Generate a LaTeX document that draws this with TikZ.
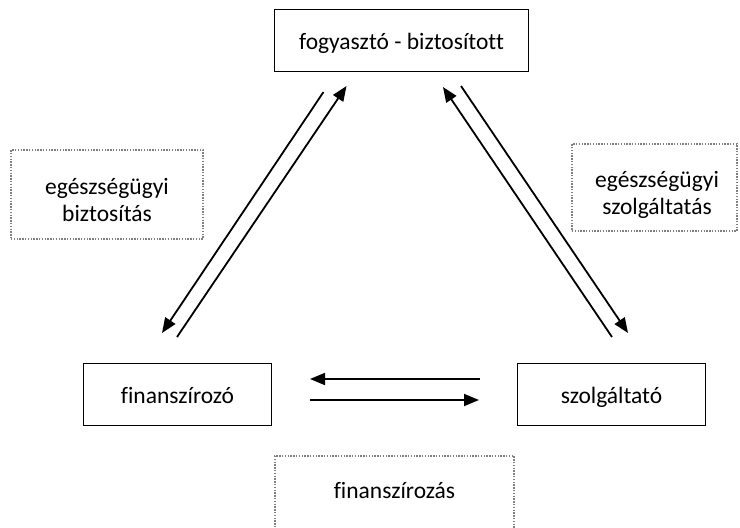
\documentclass[tikz,border=0pt]{standalone}
\usepackage{fontspec}
\setmainfont{Carlito}[Ligatures=NoCommon]
\usetikzlibrary{arrows.meta}
\begin{document}
\begin{tikzpicture}[x=1pt,y=-1pt,
  every node/.style={font=\fontsize{23.5}{27}\selectfont, inner sep=0pt},
  actor/.style={draw=black, line width=1.8pt, minimum width=#1, minimum height=62pt, text height=22pt, text depth=5pt},
  frame/.style={draw=black!50, line width=1.3pt, dash pattern=on 1.4pt off 1.4pt},
  flow/.style={line width=1.8pt, -{Triangle[length=15pt,width=12pt]}}]
\useasboundingbox (0,0) rectangle (740,528);
\clip (0,0) rectangle (740,528);
% main actors
\node[actor=254pt] (fogy) at (401.5,40.5) {fogyasztó - biztosított};
\node[actor=188pt] (fin) at (177.5,394.5) {finanszírozó};
\node[actor=188pt] (szolg) at (611.5,394.5) {szolgáltató};
% dotted label boxes
\node[frame, minimum width=192pt, minimum height=89pt] (lbiz) at (107,194.5) {};
\node[align=center] (tbiz) at (107,200) {egészségügyi\\biztosítás};
\node[frame, minimum width=165pt, minimum height=87pt] (lszolg) at (654.5,187.5) {};
\node[align=center] (tszolg) at (657,195) {egészségügyi\\szolgáltatás};
\node[frame, minimum width=239pt, minimum height=110pt] (lfin) at (394.5,511) {};
\node (tfin) at (394.5,490) {finanszírozás};
% connector end points
\coordinate (a1s) at (323.5,92);  \coordinate (a1e) at (162,333);
\coordinate (a2s) at (177,337);   \coordinate (a2e) at (346.5,86);
\coordinate (b1s) at (612,337);   \coordinate (b1e) at (443,87);
\coordinate (b2s) at (461,86);    \coordinate (b2e) at (628,333);
\coordinate (c1s) at (480,379);   \coordinate (c1e) at (310,379);
\coordinate (c2s) at (310,400);   \coordinate (c2e) at (479,400);
% connectors
\draw[flow] (a1s) -- (a1e);
\draw[flow] (a2s) -- (a2e);
\draw[flow] (b1s) -- (b1e);
\draw[flow] (b2s) -- (b2e);
\draw[flow] (c1s) -- (c1e);
\draw[flow] (c2s) -- (c2e);
\end{tikzpicture}
\end{document}
